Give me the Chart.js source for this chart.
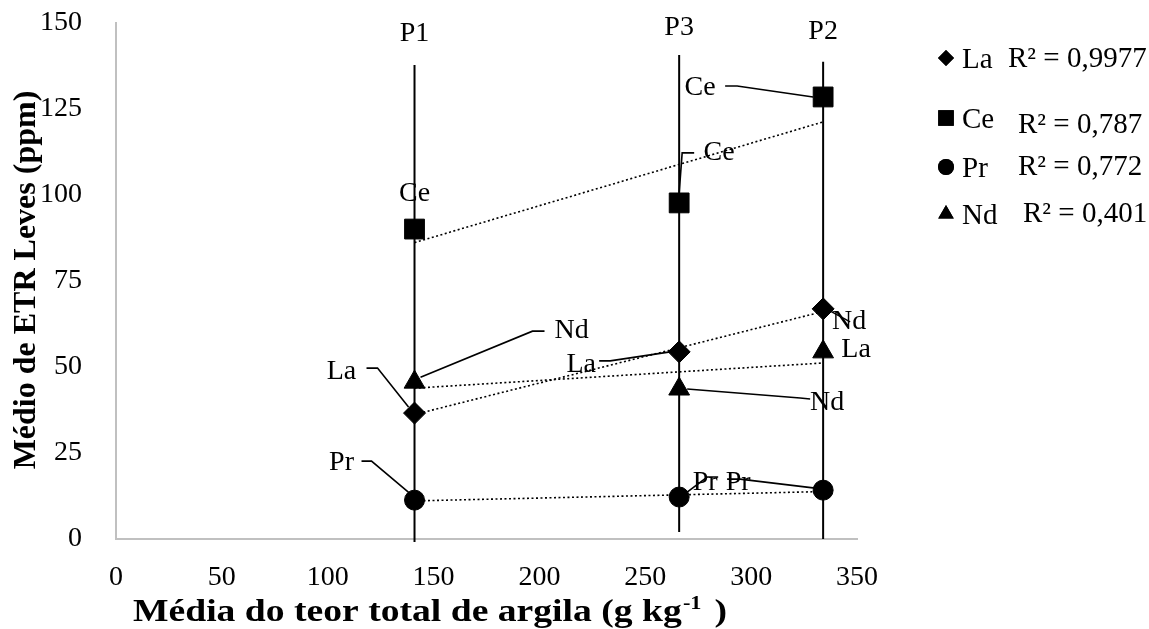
<!DOCTYPE html>
<html>
<head>
<meta charset="utf-8">
<script src="https://cdn.jsdelivr.net/npm/chart.js@4.4.1/dist/chart.umd.min.js"></script>
<style>
  html, body { margin: 0; padding: 0; background: #fff; }
</style>
</head>
<body>
<canvas id="grafico" width="1149" height="629"></canvas>
<script>
// teor de argila dos perfis (x)
var argila = [141, 266, 334];
var perfis = ['P1', 'P3', 'P2'];

// ETR leves (ppm)
var La = [36.6, 54.4, 66.9];
var Ce = [90.1, 97.7, 128.5];
var Pr = [11.3, 12.2, 14.2];
var Nd = [45.6, 43.6, 54.4];

// linhas verticais dos perfis
var linhaTopo = [137.8, 140.7, 138.7];
var linhaBase = [-0.9, 2.0, 0];

// rotulos dos pontos (como no original)
var rotulosLa = ['La', 'La', 'Nd'];
var rotulosCe = ['Ce', 'Ce', 'Ce'];
var rotulosPr = ['Pr', 'Pr', 'Pr'];
var rotulosNd = ['Nd', 'Nd', 'La'];

// legenda
var elementos = ['La', 'Ce', 'Pr', 'Nd'];
var r2 = ['R² = 0,9977', 'R² = 0,787', 'R² = 0,772', 'R² = 0,401'];

// ticks
var ticksX = [0, 50, 100, 150, 200, 250, 300, 350];
var ticksY = [0, 25, 50, 75, 100, 125, 150];

var tituloX = 'Média do teor total de argila (g kg';
var tituloXSup = '-1';
var tituloXFim = ' )';
var tituloY = 'Médio de ETR Leves (ppm)';

var serif = "'Liberation Serif', 'Times New Roman', serif";

function pontos(ys) {
    return argila.map(function (x, i) { return { x: x, y: ys[i] }; });
}

// linha de tendencia linear (minimos quadrados)
function tendencia(ys) {
    var n = argila.length, sx = 0, sy = 0, sxx = 0, sxy = 0;
    for (var i = 0; i < n; i++) {
        sx += argila[i]; sy += ys[i];
        sxx += argila[i] * argila[i]; sxy += argila[i] * ys[i];
    }
    var b = (n * sxy - sx * sy) / (n * sxx - sx * sx);
    var a = (sy - b * sx) / n;
    var x0 = Math.min.apply(null, argila), x1 = Math.max.apply(null, argila);
    return [{ x: x0, y: a + b * x0 }, { x: x1, y: a + b * x1 }];
}

function marcador(label, ys, estilo, raio) {
    return {
        label: label, data: pontos(ys), showLine: false,
        pointStyle: estilo, pointRadius: raio, pointHoverRadius: raio,
        backgroundColor: '#000', borderColor: '#000', borderWidth: 1
    };
}

function linhaTend(ys) {
    return {
        label: 'tend', data: tendencia(ys), showLine: true,
        borderColor: '#000', borderWidth: 1.6, borderDash: [2, 2.5],
        pointRadius: 0, fill: false
    };
}

function linhaPerfil(i) {
    return {
        label: perfis[i], data: [{ x: argila[i], y: linhaBase[i] }, { x: argila[i], y: linhaTopo[i] }],
        showLine: true, borderColor: '#000', borderWidth: 2, pointRadius: 0, clip: false
    };
}

// deslocamentos (px) dos rotulos e das linhas de chamada
var chamadas = {
    La: [
        { t: [-73, -41], l: [[-6, -6], [-37, -45], [-48, -45]] },
        { t: [-98, 13], l: [[-9, 0], [-69, 9], [-80, 9]] },
        { t: [26, 13], l: [[5, 1], [27, 13]] }
    ],
    Ce: [
        { t: [0, -35], l: null },
        { t: [40, -50], l: [[0, -10], [3, -50], [15, -50]] },
        { t: [-123, -9], l: [[-10, 0], [-86, -11], [-98, -11]] }
    ],
    Pr: [
        { t: [-73, -37], l: [[-5, -7], [-43, -39], [-53, -39]] },
        { t: [26, -14], l: [[8, -5], [28, -20], [39, -20]] },
        { t: [-85, -8], l: [[-8, -2], [-83, -11], [-96, -11]] }
    ],
    Nd: [
        { t: [157, -51], l: [[6, -5], [118, -51], [130, -51]] },
        { t: [148, 14], l: [[8, 0], [121, 9], [131, 10]] },
        { t: [33, -2], l: null }
    ]
};
var rotulos = { La: rotulosLa, Ce: rotulosCe, Pr: rotulosPr, Nd: rotulosNd };
var perfilDesloc = [-31, -27, -30];

var plugRotulos = {
    id: 'rotulos',
    afterDatasetsDraw: function (chart) {
        var ctx = chart.ctx;
        ctx.save();
        ctx.font = '28px ' + serif;
        ctx.fillStyle = '#000';
        ctx.strokeStyle = '#000';
        ctx.lineWidth = 1.6;
        ctx.textAlign = 'center';
        ctx.textBaseline = 'middle';
        chart.data.datasets.forEach(function (ds, di) {
            var cfg = chamadas[ds.label];
            if (!cfg) return;
            var meta = chart.getDatasetMeta(di);
            meta.data.forEach(function (pt, i) {
                var c = cfg[i];
                if (c.l) {
                    ctx.beginPath();
                    c.l.forEach(function (p, k) {
                        if (k === 0) ctx.moveTo(pt.x + p[0], pt.y + p[1]);
                        else ctx.lineTo(pt.x + p[0], pt.y + p[1]);
                    });
                    ctx.stroke();
                }
                ctx.fillText(rotulos[ds.label][i], pt.x + c.t[0], pt.y + c.t[1]);
            });
        });
        // P1, P3, P2
        chart.data.datasets.forEach(function (ds, di) {
            var k = perfis.indexOf(ds.label);
            if (k < 0) return;
            var topo = chart.getDatasetMeta(di).data[1];
            ctx.fillText(perfis[k], topo.x, topo.y + perfilDesloc[k]);
        });
        ctx.restore();
    },
    afterDraw: function (chart) {
        var ctx = chart.ctx;
        ctx.save();
        ctx.fillStyle = '#000';
        // legenda
        var estilos = ['rectRot', 'rect', 'circle', 'triangle'];
        var raios = [8, 11, 8, 9];
        var ly = [58, 118, 167, 214];
        var r2x = [1008, 1018, 1018, 1023];
        var r2y = [59, 125, 167, 214];
        ctx.font = '29px ' + serif;
        ctx.textBaseline = 'middle';
        ctx.textAlign = 'left';
        for (var i = 0; i < elementos.length; i++) {
            Chart.helpers.drawPoint(ctx, { pointStyle: estilos[i], radius: raios[i], rotation: 0, borderWidth: 0 }, 946, ly[i]);
            ctx.fill();
            ctx.fillText(elementos[i], 962, ly[i] + 2);
            ctx.fillText(r2[i], r2x[i], r2y[i]);
        }
        // titulo eixo y
        ctx.font = 'bold 32px ' + serif;
        ctx.textAlign = 'center';
        ctx.save();
        ctx.translate(27, 280);
        ctx.rotate(-Math.PI / 2);
        ctx.fillText(tituloY, 0, 0);
        ctx.restore();
        // titulo eixo x com sobrescrito
        var fPrin = 'bold 32px ' + serif, fSup = 'bold 19px ' + serif;
        ctx.font = fPrin;
        var w1 = ctx.measureText(tituloX).width, w3 = ctx.measureText(tituloXFim).width;
        ctx.font = fSup;
        var w2 = ctx.measureText(tituloXSup).width + 4;
        var total = w1 + w2 + w3, alvo = 594;
        ctx.save();
        ctx.translate(430 - alvo / 2, 621);
        ctx.scale(alvo / total, 1);
        ctx.textAlign = 'left';
        ctx.textBaseline = 'alphabetic';
        ctx.font = fPrin;
        ctx.fillText(tituloX, 0, 0);
        ctx.font = fSup;
        ctx.fillText(tituloXSup, w1 + 1, -12);
        ctx.font = fPrin;
        ctx.fillText(tituloXFim, w1 + w2, 0);
        ctx.restore();
        ctx.restore();
    }
};

var ctx = document.getElementById('grafico').getContext('2d');
var grafico = new Chart(ctx, {
    type: 'scatter',
    data: {
        datasets: [
            marcador('La', La, 'rectRot', 11),
            marcador('Ce', Ce, 'rect', 14),
            marcador('Pr', Pr, 'circle', 10),
            marcador('Nd', Nd, 'triangle', 12),
            linhaTend(La), linhaTend(Ce), linhaTend(Pr), linhaTend(Nd),
            linhaPerfil(0), linhaPerfil(1), linhaPerfil(2)
        ]
    },
    options: {
        responsive: false,
        animation: false,
        devicePixelRatio: 1,
        layout: { padding: { left: 0, top: 23, right: 292, bottom: 0 } },
        plugins: { legend: { display: false }, tooltip: { enabled: false } },
        scales: {
            x: {
                type: 'linear', min: 0, max: 350,
                afterBuildTicks: function (s) { s.ticks = ticksX.map(function (v) { return { value: v }; }); },
                afterFit: function (s) { s.height = 90; s.paddingLeft = 0; s.paddingRight = 0; },
                grid: { display: false },
                border: { display: true, color: '#c0c0c0', width: 2 },
                ticks: { color: '#000', font: { family: serif, size: 28 }, padding: 14, maxRotation: 0 }
            },
            y: {
                type: 'linear', min: 0, max: 150,
                afterBuildTicks: function (s) { s.ticks = ticksY.map(function (v) { return { value: v }; }); },
                afterFit: function (s) { s.width = 116; s.paddingTop = 0; s.paddingBottom = 0; },
                grid: { display: false },
                border: { display: true, color: '#c0c0c0', width: 2 },
                ticks: { color: '#000', font: { family: serif, size: 28 }, padding: 26 }
            }
        }
    },
    plugins: [plugRotulos]
});
</script>
</body>
</html>
